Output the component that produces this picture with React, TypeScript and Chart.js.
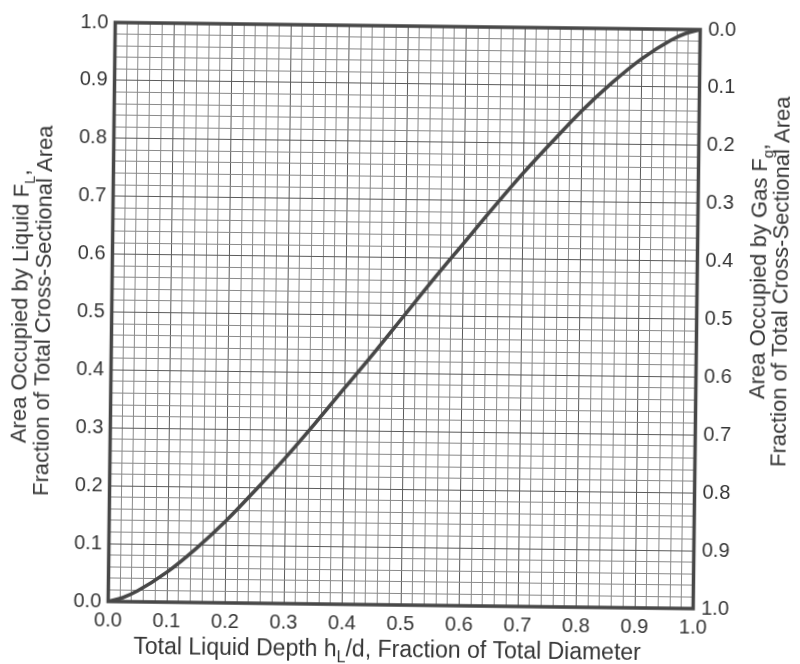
import React, { useEffect, useRef } from 'react';
import { Chart, registerables } from 'chart.js';

Chart.register(...registerables);

// Total liquid depth h_L/d (fraction of diameter)
const depthRatio = [0, 0.025, 0.05, 0.1, 0.15, 0.2, 0.25, 0.3, 0.35, 0.4, 0.45, 0.5, 0.55, 0.6, 0.65, 0.7, 0.75, 0.8, 0.85, 0.9, 0.95, 0.975, 1];
// Area occupied by liquid F_L (fraction of cross-sectional area)
const liquidArea = [0, 0.007, 0.019, 0.052, 0.094, 0.142, 0.196, 0.252, 0.312, 0.374, 0.436, 0.5, 0.564, 0.626, 0.688, 0.748, 0.804, 0.858, 0.906, 0.948, 0.981, 0.993, 1];

const xTitle = [
  { t: 'Total Liquid Depth h' },
  { t: 'L', sub: true },
  { t: '/d, Fraction of Total Diameter' },
];
const leftTitle1 = [{ t: 'Area Occupied by Liquid F' }, { t: 'L', sub: true }, { t: ',' }];
const leftTitle2 = [{ t: 'Fraction of Total Cross-Sectional Area' }];
const rightTitle1 = [{ t: 'Area Occupied by Gas F' }, { t: 'g', sub: true }, { t: ',' }];
const rightTitle2 = [{ t: 'Fraction of Total Cross-Sectional Area' }];

const FONT = "'Liberation Sans', Arial, Helvetica, sans-serif";
const TEXT = '#353535';
const LINE = '#474747';

type Part = { t: string; sub?: boolean };

function drawRich(ctx: CanvasRenderingContext2D, parts: Part[], cx: number, cy: number, angle: number, size: number) {
  const subSize = Math.round(size * 0.7);
  ctx.save();
  ctx.translate(cx, cy);
  ctx.rotate(angle);
  ctx.textBaseline = 'alphabetic';
  ctx.textAlign = 'left';
  let total = 0;
  const widths = parts.map((p) => {
    ctx.font = `${p.sub ? subSize : size}px ${FONT}`;
    const w = ctx.measureText(p.t).width;
    total += w;
    return w;
  });
  let x = -total / 2;
  parts.forEach((p, i) => {
    ctx.font = `${p.sub ? subSize : size}px ${FONT}`;
    ctx.fillText(p.t, x, p.sub ? size * 0.25 : 0);
    x += widths[i];
  });
  ctx.restore();
}

const isMajor = (v: number) => Math.abs(v * 10 - Math.round(v * 10)) < 1e-6;

const decorPlugin = {
  id: 'decor',
  afterDraw(chart: any) {
    const ctx: CanvasRenderingContext2D = chart.ctx;
    const a = chart.chartArea;
    ctx.save();
    ctx.strokeStyle = LINE;
    ctx.lineWidth = 3.5;
    ctx.strokeRect(a.left, a.top, a.right - a.left, a.bottom - a.top);
    ctx.fillStyle = TEXT;
    drawRich(ctx, xTitle, 391, 657, 0, 23);
    drawRich(ctx, leftTitle1, 27, 311, -Math.PI / 2, 22);
    drawRich(ctx, leftTitle2, 50, 315, -Math.PI / 2, 22);
    drawRich(ctx, rightTitle1, 765, 267, -Math.PI / 2, 22);
    drawRich(ctx, rightTitle2, 787, 277, -Math.PI / 2, 22);
    ctx.restore();
  },
};

export default function App() {
  const ref = useRef<HTMLCanvasElement | null>(null);

  useEffect(() => {
    if (!ref.current) return;
    const tickFont = { size: 20, family: FONT };
    const gridColor = (c: any) => (c.tick && isMajor(c.tick.value) ? '#5a5a5a' : '#8a8a8a');
    const chart = new Chart(ref.current, {
      type: 'line',
      data: {
        datasets: [
          {
            data: depthRatio.map((x, i) => ({ x, y: liquidArea[i] })),
            borderColor: LINE,
            borderWidth: 3.6,
            pointRadius: 0,
            fill: false,
            cubicInterpolationMode: 'monotone',
          },
        ],
      },
      options: {
        animation: false,
        responsive: false,
        layout: { padding: { top: 26, left: 0, right: 0, bottom: 0 } },
        plugins: { legend: { display: false }, tooltip: { enabled: false } },
        scales: {
          x: {
            type: 'linear',
            min: 0,
            max: 1,
            ticks: {
              stepSize: 0.02,
              autoSkip: false,
              maxRotation: 0,
              padding: 7,
              color: TEXT,
              font: tickFont,
              callback: (v: any) => (isMajor(Number(v)) ? Number(v).toFixed(1) : ''),
            },
            grid: { color: gridColor, lineWidth: 1, drawTicks: false },
            border: { display: false },
            afterFit: (s: any) => {
              s.height = 59;
            },
          },
          y: {
            type: 'linear',
            position: 'left',
            min: 0,
            max: 1,
            ticks: {
              stepSize: 0.02,
              autoSkip: false,
              padding: 7,
              color: TEXT,
              font: tickFont,
              callback: (v: any) => (isMajor(Number(v)) ? Number(v).toFixed(1) : ''),
            },
            grid: { color: gridColor, lineWidth: 1, drawTicks: false },
            border: { display: false },
            afterFit: (s: any) => {
              s.width = 111.5;
            },
          },
          y2: {
            type: 'linear',
            position: 'right',
            min: 0,
            max: 1,
            reverse: true,
            ticks: {
              stepSize: 0.1,
              autoSkip: false,
              padding: 8,
              color: TEXT,
              font: tickFont,
              callback: (v: any) => Number(v).toFixed(1),
            },
            grid: { display: false, drawTicks: false },
            border: { display: false },
            afterFit: (s: any) => {
              s.width = 103.5;
            },
          },
        },
      },
      plugins: [decorPlugin],
    } as any);
    return () => chart.destroy();
  }, []);

  return (
    <div style={{ position: 'absolute', left: 0, top: 0, width: 800, height: 664, background: '#fff', overflow: 'hidden' }}>
      <canvas
        ref={ref}
        width={800}
        height={664}
        style={{ display: 'block', width: 800, height: 664, transform: 'rotate(0.7deg)', transformOrigin: '400px 332px' }}
      />
    </div>
  );
}
